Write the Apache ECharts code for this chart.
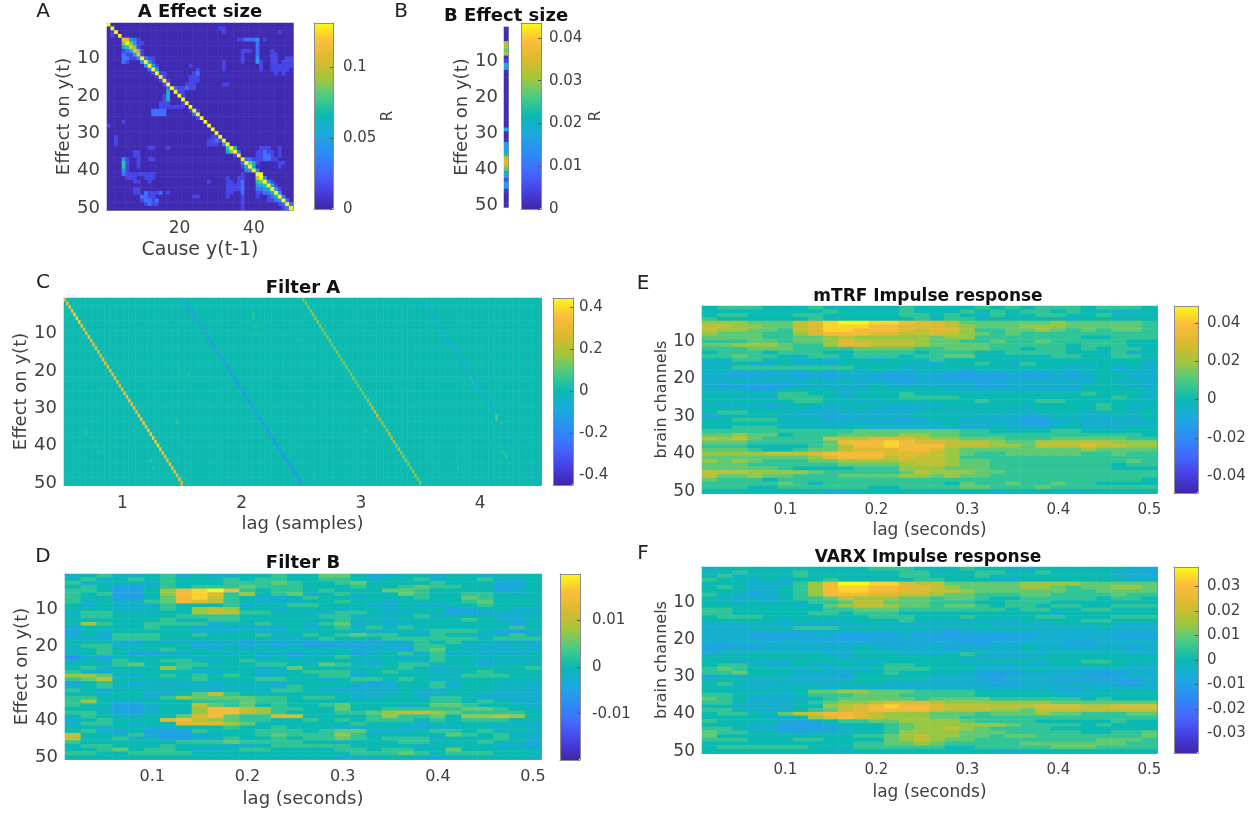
<!DOCTYPE html>
<html><head><meta charset="utf-8"><style>html,body{margin:0;background:#fff}#c{width:1250px;height:814px;filter:blur(.75px)}</style>
<script src="https://cdn.jsdelivr.net/npm/echarts@6/dist/echarts.min.js"></script></head><body><div id="c"></div>
<script>
// Tick labels
const channelTickLabels = ['10','20','30','40','50'];
const causeTickLabels = ['20','40'];
const lagSecondsLabels = ['0.1','0.2','0.3','0.4','0.5'];
const lagSampleLabels = ['1','2','3','4'];
// Level characters for panels D, E, F: '3' is zero, each step is one eighth of the colour range
const levelChars = '0123456789ab';
const filterBMax = 0.0199, mtrfMax = 0.0488, varxMax = 0.038;
const filterBLevels = [
"23422 34232 23343 35532 23323 32333","34234 34333 43443 34432 33423 34223","42333 24333 44454 33453 33343 33213","34311 34344 45444 33343 34544 33123",
"44311 369ab 94344 34333 55433 33123","43411 369a8 46345 23433 35433 44323","43311 359a7 43223 43323 33433 54333","42322 45987 43222 33433 23333 45333",
"32322 24333 42334 43332 23223 34333","33322 34367 63323 33233 23331 23322","24433 23367 74433 22443 22331 11223","34433 33444 43333 34423 33423 33222",
"33333 34334 43333 33432 23333 43223","36433 44442 33433 24523 22333 33313","23333 43322 22223 23434 34333 33343","13233 33322 23223 33322 23244 43112",
"23244 43343 33433 43454 43343 32343","22244 43333 33322 34333 44444 43444","33322 32222 21222 12221 22434 33222","34422 33312 22212 11112 22443 22232",
"23433 34332 32333 33322 21453 32222","33431 12233 23221 22312 34242 22223","02133 33323 33232 33433 32343 33333","23243 34432 34333 23322 33243 31222",
"33345 33443 33443 35432 34433 32333","34233 36433 33235 33333 34322 33334","42233 33322 33223 44423 43323 34333","66522 34343 43233 34423 33332 44433",
"45733 33343 33443 32344 34323 33333","13432 22222 33223 33331 23342 33222","23422 33232 22324 33312 23342 33332","43233 22322 33244 32122 23223 33222",
"33233 22357 43333 33322 23223 32222","44333 24655 55443 44322 33244 32222","46322 33344 45443 33333 33344 34322","43311 23375 45343 34533 32355 43332",
"33211 23369 97644 33533 44444 55433","44321 23369 97643 33445 67765 44443","34322 33589 54488 33334 64453 66763","23433 38976 54433 43434 44343 44433",
"24432 33888 65333 33343 33233 33322","33233 22333 43343 33223 32222 33232","34213 11143 33444 34552 22344 34333","73334 21123 33454 44643 33335 43422",
"73342 21122 43343 44543 44423 33432","43333 33444 54444 33233 34433 34332","34433 34333 22344 44433 33233 33221","33453 44322 34433 33443 44335 33333",
"44334 44433 33333 33344 45434 44333","33333 33333 33333 33222 33222 33332"];
const mtrfLevels = [
"34443 33433 33343 33343 43444 34443","33333 33343 33343 33434 34434 33223","34433 34433 33344 34324 33443 34333","43333 33433 33334 34433 33332 33233",
"66655 578ab baa98 87555 55565 55554","77665 578aa a9988 87655 56665 55554","76655 478aa 99987 88644 55654 54554","65554 46899 98877 87654 54444 44444",
"55554 45567 66666 56644 44444 33444","44455 45568 77776 55445 44544 44433","55666 54468 87776 55554 44443 44433","44455 54444 55554 45554 43443 43443",
"34443 44433 44443 44433 44443 33423","44544 33443 44434 45533 33344 33443","33443 32323 32333 43333 33333 33333","22322 32223 33332 23343 24333 33332",
"33444 44444 33323 33333 33332 23232","22222 22323 23222 22122 22222 33222","22111 21112 21112 21111 21121 23322","22223 22222 22112 11111 12222 23322",
"22322 22323 22212 22212 22222 23232","21111 12222 23222 22211 22222 33322","22211 33332 23333 32222 22222 33332","33333 44332 33343 33333 33333 43333",
"33222 44432 33344 44333 33333 33432","33333 34433 22333 33343 33443 33333","22221 23322 33222 23323 33333 34322","33333 33223 32222 33333 22333 34323",
"34433 32222 22223 32233 33333 23333","13333 22212 22223 33322 21233 22323","33444 33322 22212 33222 21122 22223","33333 22222 22222 23222 21123 22222",
"33444 33333 32222 22223 22233 22233","44444 44444 55555 55443 33344 33333","55655 34445 55566 55444 44444 44443","76754 44477 78887 66555 44455 55544",
"55544 44459 99a98 87776 55777 77666","44433 33457 99a99 97776 65777 87766","55543 34557 88899 86555 55555 65555","66667 77899 99888 76544 55555 44544",
"55555 55689 99787 76444 44444 44444","65654 44556 66677 76554 44444 44454","55544 44445 55567 76554 44444 44344","55555 43333 44466 65554 44444 44333",
"77766 66544 44457 66655 44444 44444","75565 54445 55566 56554 44444 44444","54443 44444 44444 44444 44444 44443","44444 54344 44444 43544 54454 43333",
"44433 44444 43344 44554 44544 44444","33333 33322 33333 33332 33332 33333"];
const varxLevels = [
"23333 33333 34443 33433 22333 33322","33433 34333 33344 33344 33433 33221","34233 34333 33344 33343 33333 33222","43323 23343 33334 43332 23333 33322",
"33322 2469b baa87 75555 56666 55555","34322 3469a a9988 76555 56654 55665","33322 3469a a9988 77655 55554 45555","43212 34699 98877 65544 45544 44544",
"32222 34457 66655 45543 34444 43443","33232 33445 77555 44433 44433 33333","33333 32356 77655 45543 44344 33444","44333 33344 55544 44444 34433 44333",
"44333 33443 44433 33333 33323 33333","34443 33333 34443 33433 33443 33444","33333 23323 33343 22222 23333 44333","22222 22222 23222 33332 22233 33222",
"22233 34443 33333 22233 33222 23222","22222 22222 22222 21222 22222 22222","22211 11221 11121 11111 11222 22111","22221 22111 12222 11111 12222 22222",
"21222 22222 21111 22112 22221 12222","11112 22222 33222 21222 23222 22212","13322 22222 32222 22222 23222 22222","22233 33322 33322 23432 22233 33322",
"33333 33332 33333 33322 22333 33333","33222 23333 22333 33233 33233 44333","34432 23223 33443 33322 22233 33322","45433 32322 23444 33322 23322 22222",
"44533 32222 33433 33211 12222 11122","13233 22221 33333 22221 22222 21222","33322 32222 33333 22211 22211 11112","34322 22223 33222 22221 12223 22112",
"33222 33322 22222 22222 22221 22222","33333 23556 65554 44433 33322 33333","44322 23444 55544 44433 33332 23333","54322 22345 55554 55554 44444 34333",
"44322 23456 67888 76666 66655 55555","33222 23367 89a99 87777 77888 77888","44322 23457 89999 87776 65777 77777","34433 57899 87666 55545 55655 44455",
"33332 23689 87666 55444 44444 44444","43333 21234 45566 66544 44333 33433","33322 11123 33456 66666 54444 34333","44322 11112 33456 67654 44433 33333",
"54433 21222 33466 66555 44444 33445","53333 33333 44567 66554 55444 44445","44433 34433 33567 65544 44444 45554","33333 33333 44556 54444 45555 55544",
"34444 44333 44444 43344 44455 54444","33333 33322 33333 33332 22333 33333"];
// Panel A: level of each diagonal cell, and runs [row, first column, levels] off the diagonal (level step = aStep)
const aStep = 0.0145;
const aDiagonal = "99998988899999999999999999999999999999999999999999";
const aRuns = [[3,2,"1"],[4,2,"1"],[2,31,"11"],[3,32,"1"],[3,47,"1"],
[5,6,"732100"],[6,5,"6"],[6,7,"63110"],[7,5,"45"],[7,8,"610"],[8,5,"124"],[8,9,"610"],[9,5,"2113"],[9,10,"10"],[10,5,"22113"],[10,11,"211"],[11,5,"21000"],[11,10,"3"],[11,12,"31"],[12,11,"3"],[12,13,"31"],[13,12,"2"],[13,14,"3"],[14,13,"1"],[14,15,"1"],[15,14,"1"],[15,16,"1"],[16,15,"1"],[16,17,"1"],
[5,36,"112223"],[6,41,"2"],[7,41,"2"],[8,37,"111"],[8,41,"2"],[9,37,"1"],[9,41,"2"],[10,37,"1"],[10,41,"3"],[11,37,"1"],[11,41,"31"],[12,42,"1"],[13,42,"1"],[5,43,"1"],[11,32,"1"],[12,32,"1"],[13,32,"1"],[17,32,"11"],[12,23,"1"],
[8,45,"1"],[9,45,"11"],[10,45,"11"],[10,49,"11"],[11,45,"11"],[11,48,"111"],[12,45,"1111"],[12,49,"11"],[13,45,"1111"],[13,49,"1"],[14,46,"1"],[14,48,"1"],
[13,25,"1"],[14,16,"1"],[14,24,"12"],[15,16,"1"],[15,23,"111"],[16,23,"111"],[17,22,"111"],[17,16,"1"],[18,17,"2"],[18,19,"2112"],[18,23,"11"],[19,17,"4"],[19,20,"1"],[19,21,"1"],[20,17,"4"],[20,16,"1"],[20,21,"1"],[21,16,"14"],[21,21,"1"],[22,15,"111"],[22,21,"1"],[23,15,"1111"],[23,19,"111"],[24,13,"2222"],[24,25,"1"],[25,13,"2222"],[25,24,"2"],[26,25,"1"],[24,23,"1"],
[28,1,"1"],[27,5,"1"],[31,3,"1"],[32,3,"1"],[33,3,"1"],[31,29,"11"],[32,28,"1121"],[33,28,"111"],[34,12,"11"],[34,17,"1"],[35,8,"11"],[36,8,"1"],[36,9,"1"],[37,12,"11"],
[37,5,"31"],[38,5,"51"],[39,5,"51"],[40,5,"3"],[37,9,"1"],[38,9,"1"],[39,9,"1"],[40,6,"1"],[41,5,"211111111"],[42,6,"111"],[42,11,"111"],[43,8,"11"],[43,12,"1"],[45,8,"11"],[46,8,"11"],[46,11,"21112"],[46,17,"1"],[47,10,"2211"],[48,10,"12212"],[49,11,"1211"],[47,24,"11"],[43,28,"1"],
[33,32,"3"],[34,33,"5"],[34,35,"4"],[35,33,"46"],[35,36,"2"],[36,35,"1"],[37,38,"2"],[38,37,"2"],[38,39,"64"],[39,37,"14"],[39,40,"4"],[40,38,"23"],[40,41,"3"],
[34,42,"111"],[35,41,"11211"],[36,41,"11221"],[37,39,"21112211"],[38,41,"1"],[34,47,"1"],[35,47,"1"],[36,47,"1"],[38,47,"11"],[39,47,"1"],
[42,33,"1"],[43,33,"11"],[42,36,"1"],[43,36,"1"],[44,33,"1111"],[45,33,"1111"],[46,33,"11"],[47,33,"1"],[41,37,"1"],[42,37,"1"],[43,37,"2"],[44,37,"2"],[45,37,"2"],[46,37,"2"],[47,37,"1"],[48,37,"1"],[49,37,"1"],[50,37,"1"],
[41,42,"9"],[42,41,"7"],[42,43,"3"],[43,41,"56"],[43,44,"31"],[44,41,"345"],[44,45,"41"],[45,41,"2234"],[45,46,"31"],[46,41,"11224"],[46,47,"3"],[47,41,"1"],[47,44,"124"],[47,48,"2"],[48,44,"1123"],[48,49,"2"],[49,47,"12"],[49,50,"2"],[50,48,"12"]];
// Panel B: one value per channel
const bValues = [0.001,0.001,0.001,0.001,0.031,0.033,0.027,0.03,0.002,0.004,0.018,0.016,0.002,0.001,0.001,0.001,0.001,0.001,0.001,0.001,0.001,0.001,0.001,0.001,0.001,0.001,0.001,0.001,0.017,0.002,0.001,0.002,0.016,0.017,0.016,0.023,0.034,0.036,0.034,0.027,0.02,0.017,0.006,0.016,0.015,0.003,0.001,0.001,0.001,0.001];
// Panel C: value on each lag's diagonal, by channel
const lag1Band = [0.3,0.33,0.35,0.37,0.39,0.4,0.38,0.34,0.33,0.32,0.33,0.31,0.32,0.33,0.33,0.32,0.34,0.32,0.33,0.34,0.31,0.33,0.32,0.31,0.33,0.33,0.34,0.35,0.34,0.33,0.35,0.36,0.35,0.37,0.36,0.35,0.37,0.38,0.38,0.41,0.37,0.36,0.34,0.33,0.34,0.33,0.32,0.31,0.33,0.3];
const lag2Band = [-0.09,-0.1,-0.12,-0.12,-0.13,-0.12,-0.11,-0.1,-0.12,-0.12,-0.13,-0.14,-0.14,-0.13,-0.12,-0.14,-0.14,-0.15,-0.14,-0.15,-0.14,-0.15,-0.15,-0.14,-0.14,-0.15,-0.16,-0.15,-0.14,-0.13,-0.12,-0.09,-0.14,-0.15,-0.15,-0.14,-0.15,-0.15,-0.16,-0.15,-0.15,-0.16,-0.16,-0.17,-0.16,-0.17,-0.17,-0.17,-0.16,-0.15];
const lag3Band = [0.12,0.13,0.12,0.13,0.15,0.16,0.15,0.15,0.14,0.13,0.13,0.12,0.12,0.12,0.14,0.13,0.12,0.13,0.13,0.12,0.12,0.13,0.12,0.13,0.13,0.12,0.13,0.15,0.16,0.18,0.22,0.24,0.17,0.17,0.15,0.15,0.17,0.18,0.17,0.16,0.18,0.16,0.15,0.14,0.14,0.13,0.14,0.15,0.14,0.12];
const lag4Band = [-0.05,-0.05,-0.06,-0.05,-0.06,-0.07,-0.06,-0.07,-0.07,-0.08,-0.08,-0.07,-0.08,-0.08,-0.09,-0.08,-0.08,-0.09,-0.08,-0.09,-0.08,-0.08,-0.09,-0.08,-0.08,-0.09,-0.09,-0.08,-0.08,-0.09,-0.07,-0.06,-0.05,-0.06,-0.05,-0.05,-0.04,-0.04,-0.03,-0.03,-0.02,-0.03,-0.02,-0.03,-0.03,-0.04,-0.04,-0.03,-0.05,-0.06];
const cSpots = [[32,181,0.09],[33,181,0.09],[34,183,0.05],[42,184,0.05],[43,185,0.05],[5,79,0.04],[6,79,0.04],[8,80,0.04],[10,80,0.04],[12,98,0.035],[25,15,0.05],[36,9,0.04],[37,9,0.04],[40,13,0.045],[42,14,0.035],[44,36,0.05],[46,37,0.04],[33,47,0.04],[34,47,0.04],[36,126,0.035],[20,48,0.035],[21,52,0.035],[8,109,0.03],[22,170,0.04],[23,171,0.04],[46,165,0.035]];
const cBackground = 0.004;
// Colour-bar ranges and ticks
const aBar = [0, 0.131], aBarTicks = [0, 0.05, 0.1];
const bBar = [0, 0.0435], bBarTicks = [0, 0.01, 0.02, 0.03, 0.04];
const cBar = [-0.445, 0.445], cBarTicks = [-0.4, -0.2, 0, 0.2, 0.4];
const dBar = [-filterBMax, filterBMax], dBarTicks = [-0.01, 0, 0.01];
const eBar = [-mtrfMax, mtrfMax], eBarTicks = [-0.04, -0.02, 0, 0.02, 0.04];
const fBar = [-varxMax, varxMax], fBarTicks = [-0.03, -0.02, -0.01, 0, 0.01, 0.02, 0.03];
const parula = ['#3e26a8','#4741e5','#4269fe','#2d8cf3','#1ca9df','#0ab9b2','#48cb86','#a3c63b','#d9ba30','#fdbb3c','#f9fb15'];

const grey='#8c8c8c', ink='#404040', FONT='DejaVu Sans';
function spaced(labels, step, n){const a=Array(n).fill('');labels.forEach((l,i)=>{a[(i+1)*step-1]=l;});return a;}
const channelCats=spaced(channelTickLabels,10,50), causeCats=spaced(causeTickLabels,20,50), secCats=spaced(lagSecondsLabels,6,30);
const sampleCats=Array(200).fill('');lagSampleLabels.forEach((l,i)=>{sampleCats[i*50+24]=l;});
function decodeLevels(rows,max){const out=[];rows.forEach((r,y)=>{r.replace(/ /g,'').split('').forEach((c,x)=>out.push([x,y,(levelChars.indexOf(c)-3)*max/8]));});return out;}
function aData(){const m=[];for(let r=0;r<50;r++)m.push(Array(50).fill(0.002));
  aRuns.forEach(([r,c,s])=>s.split('').forEach((ch,k)=>{if(c-1+k<50&&ch!=='0')m[r-1][c-1+k]=levelChars.indexOf(ch)*aStep;}));
  for(let i=0;i<50;i++)m[i][i]=levelChars.indexOf(aDiagonal[i])*aStep;
  const out=[];m.forEach((row,y)=>row.forEach((v,x)=>out.push([x,y,v])));return out;}
function cData(){const m=[];for(let r=0;r<50;r++)m.push(Array(200).fill(cBackground));
  [lag1Band,lag2Band,lag3Band,lag4Band].forEach((b,k)=>b.forEach((v,r)=>{m[r][k*50+r]=v;}));
  cSpots.forEach(([r,c,v])=>{if(c<200)m[r-1][c]=v;});
  const out=[];m.forEach((row,y)=>row.forEach((v,x)=>out.push([x,y,v])));return out;}

const panels=[
 {g:[107,23,186,187],x:causeCats,y:channelCats,data:aData(),bar:aBar,ticks:aBarTicks,cb:[314,23,19,186],xName:'Cause y(t-1)',yName:'Effect on y(t)',barName:'R',xGap:31,yGap:30,xFs:19,yFs:18,xt:17,yt:18,bm:10},
 {g:[504,27,4,180],x:[''],y:channelCats,data:bValues.map((v,i)=>[0,i,v]),bar:bBar,ticks:bBarTicks,cb:[521,23,20,186],yName:'Effect on y(t)',barName:'R',yGap:33,noTick:true,yFs:18,yt:18,xt:17,bm:8},
 {g:[64,298,477,187],x:sampleCats,y:channelCats,data:cData(),bar:cBar,ticks:cBarTicks,cb:[553,298,20,187],xName:'lag (samples)',yName:'Effect on y(t)',xGap:30,yGap:31,xFs:18,yFs:18,xt:17,yt:18,bm:6},
 {g:[65,574,476,185],x:secCats,y:channelCats,data:decodeLevels(filterBLevels,filterBMax),bar:dBar,ticks:dBarTicks,cb:[560,574,20,186],xName:'lag (seconds)',yName:'Effect on y(t)',xGap:31,yGap:32,xFs:18,yFs:18,xt:16,yt:18,bm:12},
 {g:[702,306,455,187],x:secCats,y:channelCats,data:decodeLevels(mtrfLevels,mtrfMax),bar:eBar,ticks:eBarTicks,cb:[1174,306,24,187],xName:'lag (seconds)',yName:'brain channels',xGap:29,yGap:28,xFs:17,yFs:16,xt:15,yt:17,bm:9},
 {g:[702,567,455,186],x:secCats,y:channelCats,data:decodeLevels(varxLevels,varxMax),bar:fBar,ticks:fBarTicks,cb:[1174,567,24,186],xName:'lag (seconds)',yName:'brain channels',xGap:31,yGap:28,xFs:17,yFs:16,xt:15,yt:17,bm:9}
];
const texts=[['A Effect size',200,3,18,'bold'],['B Effect size',506,7,18,'bold'],['Filter A',303,279,18,'bold'],['Filter B',303,554,18,'bold'],['mTRF Impulse response',928,288,17,'bold'],['VARX Impulse response',928,549,17,'bold'],
 ['A',43,2,20,'normal'],['B',401,2,20,'normal'],['C',43,273,20,'normal'],['D',43,547,20,'normal'],['E',643,274,20,'normal'],['F',643,544,20,'normal']];
const grids=[],xAxes=[],yAxes=[],series=[],vms=[];
const line={show:true,onZero:false,lineStyle:{color:grey,width:1}};
const tickOf=v=>v!=='';
function catAxis(data,gi,pos,opts){return Object.assign({type:'category',gridIndex:gi,position:pos,data,axisLine:line,splitLine:{show:false},
  axisTick:{show:true,inside:true,length:3,alignWithLabel:true,interval:(i,v)=>tickOf(v),lineStyle:{color:'#555'}},
  axisLabel:{show:false}},opts||{});}
panels.forEach((p,i)=>{
  const gi=grids.length;grids.push({left:p.g[0],top:p.g[1],width:p.g[2],height:p.g[3]});
  const lab=fs=>({show:true,interval:0,color:ink,fontSize:fs,fontFamily:FONT,margin:fs>16?7:9});
  const xi=xAxes.length;
  xAxes.push(catAxis(p.x,gi,'bottom',{axisLabel:Object.assign(lab(p.xt),{margin:10}),name:p.xName,nameLocation:'middle',nameGap:p.xGap||0,nameTextStyle:{color:ink,fontSize:p.xFs||16,fontFamily:FONT}}));
  xAxes.push(catAxis(p.x,gi,'top'));
  const yi=yAxes.length;
  yAxes.push(catAxis(p.y,gi,'left',{inverse:true,axisLabel:Object.assign(lab(p.yt),{margin:p.noTick?6:7,padding:[4,0,0,0]}),name:p.yName,nameLocation:'middle',nameGap:p.yGap,nameTextStyle:{color:ink,fontSize:p.yFs,fontFamily:FONT}}));
  yAxes.push(catAxis(p.y,gi,'right',{inverse:true}));
  if(p.noTick){xAxes[xi].axisTick.show=false;xAxes[xi+1].axisTick.show=false;yAxes[yi].axisTick.show=false;yAxes[yi+1].axisTick.show=false;}
  series.push({type:'heatmap',xAxisIndex:xi,yAxisIndex:yi,data:p.data,progressive:0,animation:false,emphasis:{disabled:true},itemStyle:{borderWidth:0}});
  vms.push({type:'continuous',seriesIndex:i,dimension:2,min:p.bar[0],max:p.bar[1],show:true,calculable:false,hoverLink:false,left:p.cb[0],top:p.cb[1],itemWidth:p.cb[2],itemHeight:p.cb[3],padding:0,inRange:{color:parula},outOfRange:{color:parula},z:1});
  const gb=grids.length;grids.push({left:p.cb[0],top:p.cb[1],width:p.cb[2],height:p.cb[3]});
  const plain={type:'value',gridIndex:gb,min:0,max:1,axisLine:line,axisTick:{show:false},axisLabel:{show:false},splitLine:{show:false},z:5};
  xAxes.push(Object.assign({},plain,{position:'bottom'}));xAxes.push(Object.assign({},plain,{position:'top'}));
  yAxes.push(Object.assign({},plain,{position:'left',min:p.bar[0],max:p.bar[1]}));
  yAxes.push({type:'value',gridIndex:gb,position:'right',min:p.bar[0],max:p.bar[1],axisLine:line,splitLine:{show:false},z:5,
    axisTick:{show:true,inside:true,length:3,customValues:p.ticks,lineStyle:{color:'#555'}},
    axisLabel:{show:true,customValues:p.ticks,formatter:v=>String(v),color:ink,fontSize:15,fontFamily:FONT,margin:p.bm,padding:[4,0,0,0]},
    name:p.barName,nameLocation:'middle',nameGap:48,nameRotate:90,nameTextStyle:{color:ink,fontSize:15,fontFamily:FONT}});
});
const titles=texts.map(([text,x,y,fs,fw])=>({text,left:x,top:y,textAlign:'center',padding:0,textStyle:{fontSize:fs,fontWeight:fw,fontFamily:FONT,color:fw==='bold'?'#111':'#222'}}));
echarts.init(document.getElementById('c'),null,{renderer:'canvas'}).setOption({animation:false,backgroundColor:'#fff',title:titles,grid:grids,xAxis:xAxes,yAxis:yAxes,visualMap:vms,series});
</script></body></html>
